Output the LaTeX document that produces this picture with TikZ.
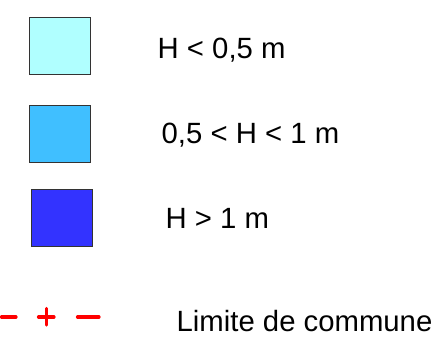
\documentclass[tikz,border=0pt]{standalone}
\usepackage{fontspec}
\setmainfont{Liberation Sans}
\usepackage{xcolor}
\usetikzlibrary{positioning}

\definecolor{hlow}{HTML}{B0FFFF}
\definecolor{hmid}{HTML}{40BFFF}
\definecolor{hhigh}{HTML}{3333FF}
\definecolor{limred}{HTML}{FF0000}

\begin{document}
\begin{tikzpicture}
  [
    x = 1pt, y = -1pt,
    box/.style = {rectangle, draw = black!80, line width = 0.8pt,
                  minimum width = 61pt, minimum height = 57pt, inner sep = 0pt},
    label/.style = {anchor = base west, inner sep = 0pt,
                    font = \fontsize{29.3}{35}\selectfont},
    limit/.style = {draw = limred, line width = 3.2pt, line cap = round},
  ]
  \useasboundingbox (0,0) rectangle (445,350);

  \node[box, fill = hlow]  (box_low)  at (59.5, 46) {};
  \node[box, fill = hmid]  (box_mid)  at (59.5, 133.5) {};
  \node[box, fill = hhigh] (box_high) at (61.5, 217.5) {};

  \node[label] (lab_low)  at (157.5, 58.3)  {H < 0,5 m};
  \node[label] (lab_mid)  at (161.5, 143.3) {0,5 < H < 1 m};
  \node[label] (lab_high) at (165.5, 228.3) {H > 1 m};
  \node[label] (lab_lim)  at (176.5, 331.5) {Limite de commune};

  % commune boundary symbol
  \draw[limit] (1.5,317) -- (16,317);
  \draw[limit] (38.5,317) -- (54,317) (46.2,308.5) -- (46.2,325);
  \draw[limit] (77.5,317) -- (99,317);
\end{tikzpicture}
\end{document}
